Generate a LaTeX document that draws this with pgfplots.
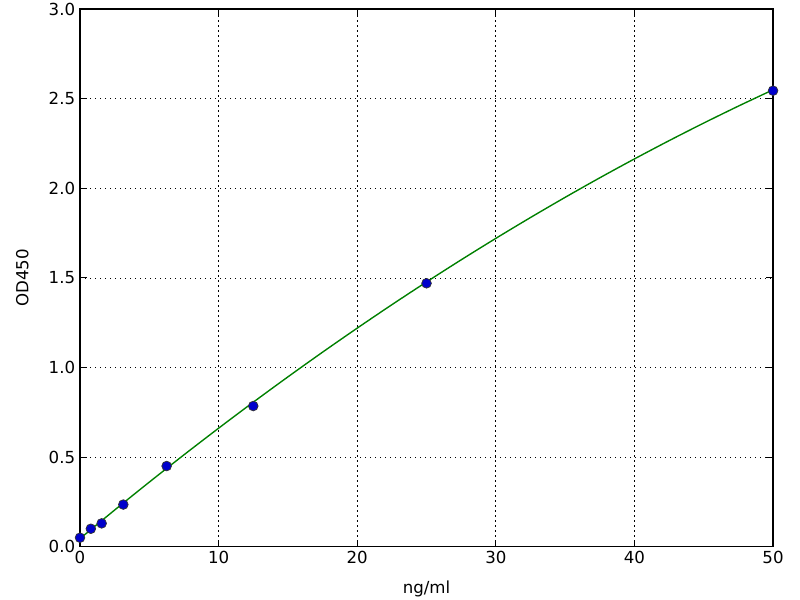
\documentclass[border=0pt]{standalone}
\usepackage{pgfplots}
\pgfplotsset{compat=1.18}
\usepackage{fontspec}
\setmainfont{DejaVu Sans}
\definecolor{mplgreen}{rgb}{0,0.5,0}
\definecolor{mplblue}{rgb}{0,0,0.8}
\begin{document}
\begin{tikzpicture}
\path[use as bounding box] (-57.6bp,-38.4bp) rectangle (518.4bp,393.6bp);
\begin{axis}[
  at={(0,0)}, anchor=south west,
  scale only axis,
  width=499bp, height=387bp,
  xmin=0, xmax=50, ymin=0, ymax=3,
  xtick={0,10,20,30,40,50},
  ytick={0,0.5,1,1.5,2,2.5,3},
  tick align=inside,
  major tick length=5bp,
  grid=major,
  major grid style={black, line width=0.5bp, dash pattern=on 1bp off 2.6bp},
  axis line style={black, line width=1bp},
  every tick/.style={black, line width=0.8bp},
  font=\fontsize{12}{14}\selectfont,
  ticklabel style={font=\fontsize{12}{14}\selectfont},
  /pgf/number format/assume math mode=true,
  yticklabel style={/pgf/number format/.cd, fixed, fixed zerofill, precision=1},
  xlabel={ng/ml},
  ylabel={OD450},
  xlabel style={at={(axis description cs:0.5,0)}, anchor=north, yshift=-21bp},
  ylabel style={at={(axis description cs:0,0.5)}, anchor=south, yshift=33.5bp},
  clip=false,
]
\addplot[mplgreen, line width=1bp, smooth, no marks] coordinates {
(0,0.045) (2.5,0.2045) (5,0.3603) (7.5,0.5126) (10,0.6612) (12.5,0.8063)
(15,0.9477) (17.5,1.0856) (20,1.2198) (22.5,1.3505) (25,1.4775) (27.5,1.601)
(30,1.7208) (32.5,1.837) (35,1.9497) (37.5,2.0588) (40,2.1642) (42.5,2.2661)
(45,2.3643) (47.5,2.459) (50,2.55)
};
\addplot[only marks, mark=*, mark size=3.5bp,
  mark options={fill=mplblue, draw=black!80, line width=0.5bp}] coordinates {
(0,0.05) (0.78125,0.10) (1.5625,0.13) (3.125,0.235) (6.25,0.45)
(12.5,0.785) (25,1.47) (50,2.545)
};
\end{axis}
\end{tikzpicture}
\end{document}
